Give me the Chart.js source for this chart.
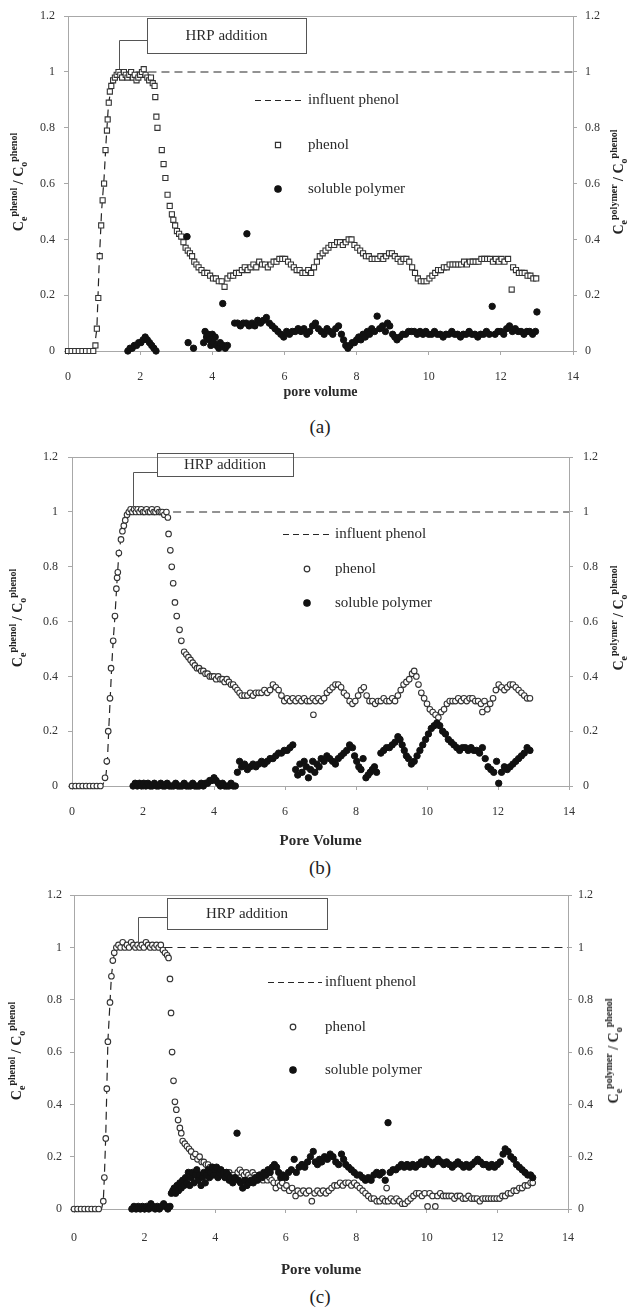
<!DOCTYPE html>
<html>
<head>
<meta charset="utf-8">
<script src="https://cdn.jsdelivr.net/npm/chart.js@4.4.1/dist/chart.umd.min.js"></script>
<style>
  body { margin: 0; background: #fff; width: 642px; height: 1310px; position: relative; overflow: hidden; font-family: "Liberation Serif", serif; color: #222; }
  canvas { position: absolute; left: 0; }
  .ytitle { position: absolute; white-space: nowrap; transform: translate(-50%, -50%) rotate(-90deg); font-weight: bold; font-size: 14px; line-height: 14px; }
  .ytitle sub, .ytitle sup { font-size: 10px; line-height: 0; }
  .caption { position: absolute; left: 320px; transform: translate(-50%, -50%); font-size: 19px; }
</style>
</head>
<body>
<canvas id="chart-a" width="642" height="402" style="top:0px"></canvas>
<canvas id="chart-b" width="642" height="410" style="top:440px"></canvas>
<canvas id="chart-c" width="642" height="400" style="top:880px"></canvas>

<div class="ytitle" style="left:19px;top:182px">C<sub>e</sub><sup>phenol</sup> / C<sub>o</sub><sup>phenol</sup></div>
<div class="ytitle" style="left:619px;top:182px">C<sub>e</sub><sup>polymer</sup> / C<sub>o</sub><sup>phenol</sup></div>
<div class="caption" style="top:427px">(a)</div>

<div class="ytitle" style="left:18px;top:618px">C<sub>e</sub><sup>phenol</sup> / C<sub>o</sub><sup>phenol</sup></div>
<div class="ytitle" style="left:619px;top:618px">C<sub>e</sub><sup>polymer</sup> / C<sub>o</sub><sup>phenol</sup></div>
<div class="caption" style="top:868px">(b)</div>

<div class="ytitle" style="left:17px;top:1051px">C<sub>e</sub><sup>phenol</sup> / C<sub>o</sub><sup>phenol</sup></div>
<div class="ytitle" style="left:614px;top:1051px">C<sub>e</sub><sup>polymer</sup> / C<sub>o</sub><sup>phenol</sup></div>
<div class="caption" style="top:1297px">(c)</div>

<script>
// Ticks
const xTicks = [0, 2, 4, 6, 8, 10, 12, 14];
const yTicks = [0, 0.2, 0.4, 0.6, 0.8, 1, 1.2];
const legendLabels = ["influent phenol", "phenol", "soluble polymer"];
const noteText = "HRP addition";

// (a) [pore volume, C/Co]
const influentA = [[0,0],[0.72,0],[0.8,0.08],[0.86,0.3],[0.93,0.5],[1.0,0.62],[1.06,0.76],[1.12,0.88],[1.2,0.95],[1.3,0.99],[1.4,1.0],[14,1.0]];
const phenolA = [
  [0,0],[0.1,0],[0.2,0],[0.3,0],[0.4,0],[0.5,0],[0.6,0],[0.7,0],
  [0.76,0.02],[0.8,0.08],[0.84,0.19],[0.88,0.34],[0.92,0.45],[0.96,0.54],[1.0,0.6],[1.04,0.72],[1.08,0.79],[1.1,0.83],[1.13,0.89],[1.16,0.93],[1.2,0.95],[1.25,0.97],[1.3,0.98],
  [1.35,0.99],[1.4,1.0],[1.45,0.99],[1.5,0.98],[1.55,1.0],[1.6,0.99],[1.65,0.98],[1.7,0.99],[1.75,1.0],[1.8,0.98],[1.85,0.99],[1.9,0.97],[1.95,0.98],[2.0,0.99],[2.05,1.0],[2.1,1.01],[2.15,0.99],[2.2,0.98],[2.25,0.97],[2.3,0.98],[2.35,0.96],
  [2.4,0.95],[2.42,0.91],[2.45,0.84],[2.48,0.8],[2.6,0.72],[2.65,0.67],[2.7,0.62],[2.76,0.56],[2.82,0.52],[2.88,0.49],[2.92,0.47],[2.97,0.45],[3.02,0.43],[3.08,0.42],[3.14,0.41],[3.2,0.39],[3.26,0.37],[3.32,0.36],[3.38,0.35],[3.44,0.34],[3.5,0.32],[3.56,0.31],[3.62,0.3],[3.7,0.29],[3.78,0.28],[3.86,0.28],[3.94,0.27],[4.02,0.26],[4.1,0.26],[4.18,0.25],[4.26,0.25],[4.34,0.23],
  [4.42,0.26],[4.5,0.27],[4.58,0.27],[4.66,0.28],[4.74,0.28],[4.82,0.29],[4.9,0.3],[4.98,0.29],[5.06,0.3],[5.14,0.31],[5.22,0.3],[5.3,0.32],[5.38,0.31],[5.46,0.31],[5.54,0.3],[5.62,0.31],[5.7,0.32],[5.78,0.32],[5.86,0.33],[5.94,0.33],[6.02,0.33],[6.1,0.32],[6.18,0.31],[6.26,0.3],[6.34,0.29],[6.42,0.29],[6.5,0.28],[6.58,0.28],[6.66,0.29],[6.74,0.28],
  [6.82,0.3],[6.9,0.32],[6.98,0.34],[7.06,0.35],[7.14,0.36],[7.22,0.37],[7.3,0.38],[7.38,0.38],[7.46,0.39],[7.54,0.39],[7.62,0.38],[7.7,0.39],[7.78,0.4],[7.86,0.4],[7.94,0.38],[8.02,0.37],[8.1,0.36],[8.18,0.35],[8.26,0.34],[8.34,0.34],[8.42,0.33],[8.5,0.33],[8.58,0.33],[8.66,0.34],[8.74,0.33],[8.82,0.34],[8.9,0.35],[8.98,0.35],[9.06,0.34],[9.14,0.33],[9.22,0.32],[9.3,0.33],[9.38,0.33],[9.46,0.32],
  [9.54,0.3],[9.62,0.28],[9.7,0.26],[9.78,0.25],[9.86,0.25],[9.94,0.25],[10.02,0.26],[10.1,0.27],[10.18,0.28],[10.26,0.29],[10.34,0.29],[10.42,0.3],[10.5,0.3],[10.58,0.31],[10.66,0.31],[10.74,0.31],[10.82,0.31],[10.9,0.31],[10.98,0.32],[11.06,0.31],[11.14,0.32],[11.22,0.32],[11.3,0.32],[11.38,0.32],[11.46,0.33],[11.54,0.33],[11.62,0.33],[11.7,0.33],[11.78,0.32],[11.86,0.33],[11.94,0.32],[12.02,0.33],[12.1,0.32],[12.2,0.33],
  [12.3,0.22],[12.34,0.3],[12.42,0.29],[12.5,0.28],[12.58,0.28],[12.66,0.28],[12.74,0.27],[12.82,0.27],[12.9,0.26],[12.98,0.26]
];
const polymerA = [
  [1.66,0],[1.72,0.01],[1.78,0.01],[1.84,0.02],[1.9,0.02],[1.96,0.03],[2.02,0.03],[2.08,0.04],[2.14,0.05],[2.2,0.04],[2.26,0.03],[2.32,0.02],[2.38,0.01],[2.44,0],
  [3.3,0.41],[3.33,0.03],[3.48,0.01],
  [3.76,0.03],[3.8,0.07],[3.84,0.05],[3.88,0.06],[3.92,0.04],[3.96,0.02],[4.0,0.06],[4.04,0.03],[4.08,0.05],[4.12,0.02],[4.18,0.01],[4.22,0.03],[4.29,0.17],[4.3,0.02],[4.36,0.01],[4.42,0.02],
  [4.62,0.1],[4.7,0.1],[4.78,0.09],[4.86,0.1],[4.94,0.1],[4.96,0.42],[5.02,0.09],[5.1,0.1],[5.18,0.09],[5.26,0.11],[5.34,0.1],[5.42,0.11],[5.5,0.12],[5.58,0.1],[5.66,0.09],[5.74,0.08],[5.82,0.07],[5.9,0.06],[5.98,0.05],
  [6.06,0.07],[6.14,0.06],[6.22,0.07],[6.3,0.07],[6.38,0.08],[6.46,0.07],[6.54,0.08],[6.62,0.06],[6.7,0.07],[6.78,0.09],[6.86,0.1],[6.94,0.08],[7.02,0.07],[7.1,0.06],[7.18,0.08],[7.26,0.07],[7.34,0.06],[7.42,0.08],[7.5,0.09],
  [7.58,0.06],[7.64,0.04],[7.7,0.02],[7.76,0.01],[7.82,0.02],[7.88,0.03],[7.94,0.03],[8.0,0.04],[8.06,0.05],[8.12,0.04],[8.18,0.06],[8.24,0.05],[8.3,0.07],[8.36,0.06],[8.42,0.08],[8.5,0.07],[8.57,0.125],[8.64,0.08],[8.72,0.09],[8.8,0.07],[8.86,0.1],[8.92,0.09],[9.0,0.06],[9.06,0.05],[9.12,0.04],
  [9.2,0.05],[9.28,0.06],[9.36,0.06],[9.44,0.07],[9.52,0.07],[9.6,0.07],[9.68,0.06],[9.76,0.07],[9.84,0.06],[9.92,0.07],[10.0,0.06],[10.08,0.06],[10.16,0.07],[10.24,0.06],[10.32,0.06],[10.4,0.05],[10.48,0.06],[10.56,0.06],[10.64,0.07],[10.72,0.06],[10.8,0.06],[10.88,0.05],[10.96,0.06],[11.04,0.06],[11.12,0.07],[11.2,0.06],[11.28,0.06],[11.36,0.05],[11.44,0.06],[11.52,0.06],[11.6,0.07],[11.68,0.06],
  [11.76,0.16],[11.84,0.06],[11.92,0.07],[12.0,0.07],[12.08,0.06],[12.16,0.08],[12.24,0.09],[12.32,0.07],[12.4,0.08],[12.48,0.07],[12.56,0.07],[12.64,0.06],[12.72,0.07],[12.8,0.07],[12.88,0.06],[12.96,0.07],[13.0,0.14]
];

// (b)
const influentB = [[0,0],[0.85,0],[0.95,0.03],[1.0,0.1],[1.04,0.22],[1.08,0.33],[1.12,0.44],[1.16,0.53],[1.21,0.62],[1.26,0.73],[1.32,0.85],[1.4,0.92],[1.5,0.97],[1.6,1.0],[14,1.0]];
const phenolB = [
  [0,0],[0.1,0],[0.2,0],[0.3,0],[0.4,0],[0.5,0],[0.6,0],[0.7,0],[0.8,0],
  [0.93,0.03],[0.98,0.09],[1.02,0.2],[1.07,0.32],[1.1,0.43],[1.16,0.53],[1.21,0.62],[1.25,0.72],[1.27,0.76],[1.29,0.78],[1.32,0.85],[1.38,0.9],[1.42,0.93],[1.46,0.95],[1.5,0.97],[1.55,0.99],
  [1.6,1.0],[1.65,1.01],[1.7,1.0],[1.75,1.01],[1.8,1.0],[1.85,1.01],[1.9,1.0],[1.95,1.01],[2.0,1.0],[2.05,1.0],[2.1,1.01],[2.15,1.0],[2.2,1.0],[2.25,1.01],[2.3,1.0],[2.35,1.0],[2.4,1.01],[2.45,1.0],[2.5,1.0],[2.55,1.0],[2.6,0.99],[2.66,1.0],
  [2.7,0.98],[2.72,0.92],[2.77,0.86],[2.81,0.8],[2.85,0.74],[2.9,0.67],[2.95,0.62],[3.03,0.57],[3.08,0.53],[3.16,0.49],[3.22,0.48],[3.28,0.47],[3.34,0.46],[3.4,0.45],[3.46,0.44],[3.52,0.43],[3.58,0.43],[3.64,0.42],[3.7,0.42],[3.76,0.41],[3.82,0.41],[3.88,0.4],[3.94,0.4],[4.0,0.4],[4.06,0.39],[4.12,0.4],[4.18,0.39],[4.24,0.39],[4.3,0.38],[4.36,0.39],[4.42,0.38],[4.48,0.37],[4.54,0.37],[4.6,0.36],[4.66,0.35],[4.72,0.34],[4.78,0.33],
  [4.86,0.33],[4.94,0.33],[5.02,0.34],[5.1,0.33],[5.18,0.34],[5.26,0.34],[5.34,0.34],[5.42,0.35],[5.5,0.34],[5.58,0.35],[5.66,0.37],[5.74,0.36],[5.82,0.35],[5.9,0.33],[5.98,0.31],[6.06,0.32],[6.14,0.31],[6.22,0.32],[6.3,0.31],[6.38,0.32],[6.46,0.31],[6.54,0.32],[6.62,0.31],[6.7,0.31],[6.78,0.32],[6.8,0.26],[6.86,0.31],[6.94,0.32],[7.02,0.31],[7.1,0.32],
  [7.18,0.34],[7.26,0.35],[7.34,0.36],[7.42,0.37],[7.5,0.37],[7.58,0.36],[7.66,0.34],[7.74,0.33],[7.82,0.31],[7.9,0.3],[7.98,0.31],[8.06,0.33],[8.14,0.35],[8.22,0.36],[8.3,0.33],[8.38,0.31],[8.46,0.31],[8.54,0.3],[8.62,0.31],[8.7,0.31],[8.78,0.32],[8.86,0.31],[8.94,0.31],[9.02,0.32],[9.1,0.31],[9.18,0.33],[9.26,0.35],[9.34,0.37],[9.42,0.38],[9.5,0.39],[9.58,0.41],[9.64,0.42],
  [9.7,0.4],[9.76,0.37],[9.84,0.34],[9.92,0.32],[10.0,0.3],[10.08,0.28],[10.16,0.27],[10.24,0.26],[10.32,0.25],[10.4,0.27],[10.48,0.28],[10.56,0.3],[10.64,0.31],[10.72,0.31],[10.8,0.31],[10.88,0.32],[10.96,0.31],[11.04,0.32],[11.12,0.31],[11.2,0.32],[11.28,0.32],[11.36,0.31],[11.44,0.31],[11.52,0.3],[11.56,0.27],[11.62,0.31],[11.7,0.28],[11.78,0.3],
  [11.86,0.32],[11.94,0.35],[12.02,0.37],[12.1,0.36],[12.18,0.35],[12.26,0.36],[12.34,0.37],[12.42,0.37],[12.5,0.36],[12.58,0.35],[12.66,0.34],[12.74,0.33],[12.82,0.32],[12.9,0.32]
];
const polymerB = [
  [1.72,0],[1.78,0.01],[1.84,0],[1.9,0.01],[1.96,0],[2.02,0.01],[2.08,0],[2.14,0.01],[2.2,0],[2.26,0],[2.32,0.01],[2.38,0],[2.44,0],[2.5,0.01],[2.56,0],[2.62,0],[2.68,0.01],[2.74,0],[2.8,0],[2.86,0],[2.92,0.01],[2.98,0],[3.04,0],[3.1,0],[3.16,0.01],[3.22,0],[3.28,0],[3.34,0],[3.4,0.01],[3.46,0],[3.52,0],[3.58,0],[3.64,0.01],[3.7,0],[3.76,0.01],[3.82,0.01],[3.88,0.02],[3.94,0.02],[4.0,0.03],[4.06,0.02],[4.12,0.01],[4.18,0],[4.24,0.01],[4.3,0],[4.36,0],[4.42,0],[4.48,0.01],[4.54,0],[4.6,0],
  [4.66,0.05],[4.72,0.09],[4.78,0.07],[4.86,0.08],[4.94,0.06],[5.02,0.07],[5.1,0.08],[5.18,0.07],[5.26,0.08],[5.34,0.09],[5.42,0.08],[5.5,0.09],[5.58,0.1],[5.66,0.1],[5.74,0.11],[5.82,0.12],[5.9,0.12],[5.98,0.13],[6.06,0.13],[6.14,0.14],[6.22,0.15],
  [6.3,0.06],[6.36,0.04],[6.42,0.08],[6.48,0.05],[6.54,0.09],[6.6,0.07],[6.66,0.03],[6.72,0.06],[6.78,0.09],[6.84,0.05],[6.9,0.08],[6.96,0.07],[7.02,0.1],[7.1,0.09],[7.18,0.11],[7.26,0.1],[7.34,0.09],[7.42,0.08],[7.5,0.1],[7.58,0.11],[7.66,0.12],[7.74,0.13],[7.82,0.15],[7.9,0.14],
  [7.96,0.11],[8.02,0.09],[8.08,0.07],[8.14,0.06],[8.2,0.1],[8.28,0.03],[8.34,0.04],[8.4,0.05],[8.46,0.06],[8.52,0.07],[8.58,0.05],
  [8.7,0.12],[8.78,0.13],[8.86,0.14],[8.94,0.14],[9.02,0.15],[9.1,0.16],[9.18,0.18],[9.24,0.17],[9.3,0.15],[9.36,0.13],[9.42,0.11],[9.48,0.1],[9.56,0.08],[9.64,0.09],[9.72,0.11],[9.8,0.13],[9.88,0.15],[9.96,0.17],[10.04,0.19],[10.12,0.21],[10.2,0.22],[10.28,0.23],[10.36,0.22],[10.44,0.2],[10.52,0.19],[10.6,0.17],[10.68,0.16],[10.76,0.15],[10.84,0.14],[10.92,0.13],
  [11.0,0.14],[11.08,0.14],[11.16,0.13],[11.24,0.14],[11.32,0.13],[11.4,0.13],[11.48,0.12],[11.56,0.14],[11.64,0.1],[11.72,0.07],[11.8,0.06],[11.88,0.05],[11.96,0.09],[12.02,0.01],[12.1,0.05],[12.18,0.07],[12.26,0.06],[12.34,0.07],[12.42,0.08],[12.5,0.09],[12.58,0.1],[12.66,0.11],[12.74,0.12],[12.82,0.14],[12.9,0.13]
];

// (c)
const influentC = [[0,0],[0.78,0],[0.83,0.03],[0.86,0.12],[0.9,0.28],[0.93,0.46],[0.96,0.64],[1.02,0.79],[1.06,0.89],[1.12,0.96],[1.2,1.0],[14,1.0]];
const phenolC = [
  [0,0],[0.1,0],[0.2,0],[0.3,0],[0.4,0],[0.5,0],[0.6,0],[0.7,0],
  [0.83,0.03],[0.86,0.12],[0.9,0.27],[0.93,0.46],[0.96,0.64],[1.02,0.79],[1.06,0.89],[1.1,0.95],[1.14,0.98],
  [1.2,1.0],[1.26,1.01],[1.32,1.0],[1.38,1.02],[1.44,1.0],[1.5,1.01],[1.56,1.0],[1.62,1.02],[1.68,1.01],[1.74,1.0],[1.8,1.01],[1.86,1.0],[1.92,1.01],[1.98,1.0],[2.04,1.02],[2.1,1.01],[2.16,1.0],[2.22,1.01],[2.28,1.0],[2.34,1.01],[2.4,1.0],[2.46,1.01],[2.52,0.99],[2.58,0.98],[2.64,0.97],[2.68,0.96],
  [2.72,0.88],[2.75,0.75],[2.78,0.6],[2.82,0.49],[2.86,0.41],[2.9,0.38],[2.95,0.34],[3.0,0.31],[3.04,0.29],[3.08,0.26],[3.14,0.25],[3.2,0.24],[3.26,0.23],[3.32,0.22],[3.38,0.2],[3.44,0.21],[3.5,0.19],[3.56,0.2],[3.62,0.18],[3.68,0.18],[3.74,0.17],[3.8,0.17],[3.86,0.16],[3.92,0.16],[3.98,0.15],[4.04,0.15],[4.1,0.14],[4.16,0.15],[4.22,0.14],[4.28,0.14],[4.34,0.13],[4.4,0.14],[4.46,0.13],[4.52,0.13],[4.58,0.12],
  [4.64,0.14],[4.7,0.15],[4.76,0.14],[4.82,0.13],[4.88,0.14],[4.94,0.13],[5.0,0.12],[5.06,0.14],[5.12,0.13],[5.18,0.12],[5.24,0.13],[5.3,0.12],[5.36,0.11],[5.42,0.12],[5.48,0.11],[5.54,0.12],[5.6,0.11],[5.66,0.1],[5.72,0.08],[5.78,0.1],[5.84,0.09],[5.9,0.1],[5.96,0.08],[6.02,0.09],[6.1,0.07],[6.18,0.08],[6.28,0.05],[6.34,0.07],[6.42,0.06],[6.5,0.07],[6.58,0.06],[6.66,0.07],[6.74,0.03],[6.82,0.06],[6.9,0.07],[6.98,0.06],
  [7.06,0.07],[7.14,0.06],[7.22,0.07],[7.3,0.08],[7.38,0.09],[7.46,0.09],[7.54,0.1],[7.62,0.09],[7.7,0.1],[7.78,0.1],[7.86,0.09],[7.94,0.1],[8.02,0.09],[8.1,0.08],[8.18,0.07],[8.26,0.06],[8.34,0.05],[8.42,0.04],[8.5,0.04],[8.58,0.03],[8.66,0.03],[8.74,0.04],[8.82,0.03],[8.86,0.08],[8.9,0.03],[8.98,0.04],[9.06,0.03],[9.14,0.04],[9.22,0.03],[9.3,0.02],[9.38,0.02],[9.46,0.03],[9.54,0.04],
  [9.62,0.05],[9.7,0.06],[9.78,0.06],[9.86,0.05],[9.94,0.06],[10.02,0.01],[10.08,0.06],[10.16,0.05],[10.24,0.01],[10.3,0.05],[10.38,0.06],[10.46,0.05],[10.54,0.05],[10.62,0.05],[10.7,0.05],[10.78,0.04],[10.86,0.05],[10.94,0.05],[11.02,0.04],[11.1,0.04],[11.18,0.05],[11.26,0.04],[11.34,0.04],[11.42,0.04],[11.5,0.03],[11.58,0.04],[11.66,0.04],[11.74,0.04],[11.82,0.04],[11.9,0.04],[11.98,0.04],
  [12.06,0.04],[12.14,0.05],[12.22,0.05],[12.3,0.06],[12.38,0.06],[12.46,0.07],[12.54,0.07],[12.62,0.08],[12.7,0.08],[12.78,0.09],[12.86,0.09],[12.94,0.1],[13.0,0.1]
];
const polymerC = [
  [1.64,0],[1.7,0.01],[1.76,0],[1.82,0.01],[1.88,0],[1.94,0.01],[2.0,0],[2.06,0.01],[2.12,0],[2.18,0.02],[2.24,0.01],[2.3,0],[2.36,0.01],[2.42,0],[2.48,0.01],[2.54,0.02],[2.6,0.01],[2.66,0],[2.72,0.01],
  [2.76,0.06],[2.8,0.07],[2.84,0.08],[2.88,0.06],[2.92,0.09],[2.96,0.07],[3.0,0.1],[3.04,0.08],[3.08,0.11],[3.12,0.09],[3.16,0.12],[3.2,0.1],[3.24,0.14],[3.28,0.09],[3.32,0.12],[3.36,0.14],[3.4,0.1],[3.44,0.13],[3.48,0.15],[3.52,0.11],[3.56,0.13],[3.6,0.09],[3.64,0.12],[3.68,0.14],[3.72,0.1],[3.76,0.13],[3.8,0.15],[3.84,0.12],[3.88,0.14],[3.92,0.16],[3.96,0.13],[4.0,0.15],[4.04,0.16],[4.08,0.12],[4.12,0.14],[4.16,0.15],[4.2,0.13],[4.24,0.14],[4.28,0.12],[4.32,0.14],[4.36,0.13],[4.4,0.11],[4.44,0.12],[4.5,0.1],[4.56,0.12],
  [4.62,0.29],[4.66,0.11],[4.72,0.1],[4.78,0.08],[4.84,0.11],[4.9,0.09],[4.96,0.1],[5.02,0.11],[5.08,0.1],[5.14,0.12],[5.2,0.11],[5.26,0.13],[5.32,0.12],[5.38,0.14],[5.44,0.13],[5.5,0.15],[5.56,0.14],[5.62,0.16],[5.68,0.17],[5.74,0.16],[5.8,0.14],[5.86,0.12],[5.92,0.13],[6.0,0.12],[6.08,0.14],[6.16,0.15],[6.24,0.19],[6.3,0.14],[6.38,0.16],[6.46,0.17],[6.54,0.16],[6.62,0.18],[6.7,0.2],[6.78,0.22],[6.84,0.18],[6.9,0.17],[6.96,0.19],
  [7.02,0.18],[7.1,0.2],[7.18,0.19],[7.26,0.21],[7.34,0.2],[7.42,0.18],[7.5,0.17],[7.58,0.21],[7.64,0.19],[7.7,0.17],[7.78,0.16],[7.86,0.15],[7.94,0.14],[8.02,0.13],[8.1,0.13],[8.18,0.12],[8.26,0.11],[8.34,0.12],[8.42,0.11],[8.5,0.13],[8.58,0.14],[8.66,0.13],[8.74,0.14],[8.82,0.11],[8.9,0.33],[8.96,0.14],
  [9.04,0.15],[9.12,0.15],[9.2,0.16],[9.28,0.17],[9.36,0.16],[9.44,0.17],[9.52,0.16],[9.6,0.17],[9.68,0.16],[9.76,0.17],[9.84,0.18],[9.92,0.17],[10.0,0.19],[10.08,0.18],[10.16,0.17],[10.24,0.18],[10.32,0.19],[10.4,0.18],[10.48,0.17],[10.56,0.18],[10.64,0.17],[10.72,0.16],[10.8,0.17],[10.88,0.18],[10.96,0.17],[11.04,0.16],[11.12,0.17],[11.2,0.16],[11.28,0.17],[11.36,0.18],[11.44,0.19],[11.52,0.18],[11.6,0.17],[11.68,0.17],[11.76,0.16],[11.84,0.17],[11.92,0.16],[12.0,0.17],
  [12.08,0.18],[12.16,0.21],[12.22,0.23],[12.3,0.22],[12.38,0.2],[12.46,0.19],[12.54,0.17],[12.62,0.16],[12.7,0.15],[12.78,0.14],[12.86,0.13],[12.94,0.13],[13.0,0.12]
];

// Layout (page pixels)
const axisColor = "#a8a8a8";
const inkColor = "#2a2a2a";
const dashColor = "#262626";
Chart.defaults.font.family = '"Liberation Serif", "Times New Roman", serif';

const panels = [
  {
    id: "chart-a", top: 0, area: { left: 68, right: 573, top: 13, bottom: 351 },
    influent: influentA, phenol: phenolA, polymer: polymerA,
    phenolStyle: "rect", phenolRadius: 3.6,
    xTitle: "pore volume", xTitleSize: 14, xTitlePad: 1, xPad: 15, yPadL: 9, yPadR: 8,
    note: { x1: 147, y1: 18, x2: 306, y2: 53, leadY: 40, tipX: 1.41 },
    legend: { dash: [255, 305], textX: 308, markX: 278, rows: [100, 145, 189] }
  },
  {
    id: "chart-b", top: 440, area: { left: 72, right: 569, top: 451, bottom: 786 },
    influent: influentB, phenol: phenolB, polymer: polymerB,
    phenolStyle: "circle", phenolRadius: 2.8,
    xTitle: "Pore Volume", xTitleSize: 15, xTitlePad: 0, xPad: 15, yPadL: 10, yPadR: 10,
    note: { x1: 157, y1: 453, x2: 293, y2: 476, leadY: 472, tipX: 1.72 },
    legend: { dash: [283, 332], textX: 335, markX: 307, rows: [534, 569, 603] }
  },
  {
    id: "chart-c", top: 880, area: { left: 74, right: 568, top: 894, bottom: 1209 },
    influent: influentC, phenol: phenolC, polymer: polymerC,
    phenolStyle: "circle", phenolRadius: 2.8,
    xTitle: "Pore volume", xTitleSize: 15, xTitlePad: 1, xPad: 18, yPadL: 8, yPadR: 6,
    note: { x1: 167, y1: 898, x2: 327, y2: 929, leadY: 917, tipX: 1.81 },
    legend: { dash: [268, 322], textX: 325, markX: 293, rows: [982, 1027, 1070] }
  }
];

function toXY(list) {
  return list.map(p => ({ x: p[0], y: p[1] }));
}

function drawExtras(chart, p) {
  const ctx = chart.ctx;
  const a = chart.chartArea;
  const t = p.top;
  ctx.save();

  // frame top
  ctx.strokeStyle = axisColor;
  ctx.lineWidth = 1;
  ctx.beginPath();
  ctx.moveTo(a.left, Math.round(a.top) + 0.5);
  ctx.lineTo(a.right, Math.round(a.top) + 0.5);
  ctx.stroke();

  // HRP addition note
  const n = p.note;
  ctx.strokeStyle = "#555";
  ctx.strokeRect(n.x1 + 0.5, n.y1 - t + 0.5, n.x2 - n.x1, n.y2 - n.y1);
  const tipX = Math.round(chart.scales.x.getPixelForValue(n.tipX)) + 0.5;
  const tipY = chart.scales.y.getPixelForValue(1.0) - 3;
  ctx.beginPath();
  ctx.moveTo(n.x1, n.leadY - t + 0.5);
  ctx.lineTo(tipX, n.leadY - t + 0.5);
  ctx.lineTo(tipX, tipY);
  ctx.stroke();
  ctx.fillStyle = inkColor;
  ctx.font = '15px "Liberation Serif"';
  ctx.textAlign = "center";
  ctx.textBaseline = "middle";
  ctx.fillText(noteText, (n.x1 + n.x2) / 2, (n.y1 + n.y2) / 2 - t + 1);

  // Legend
  const L = p.legend;
  ctx.strokeStyle = dashColor;
  ctx.lineWidth = 1.2;
  ctx.setLineDash([6, 4]);
  ctx.beginPath();
  ctx.moveTo(L.dash[0], L.rows[0] - t + 0.5);
  ctx.lineTo(L.dash[1], L.rows[0] - t + 0.5);
  ctx.stroke();
  ctx.setLineDash([]);

  ctx.strokeStyle = "#333";
  ctx.fillStyle = "#fff";
  Chart.helpers.drawPoint(ctx, { pointStyle: p.phenolStyle, radius: p.phenolRadius, borderWidth: 1.1, rotation: 0 }, L.markX, L.rows[1] - t);
  ctx.fillStyle = "#111";
  ctx.strokeStyle = "#111";
  Chart.helpers.drawPoint(ctx, { pointStyle: "circle", radius: 3.2, borderWidth: 1, rotation: 0 }, L.markX, L.rows[2] - t);

  ctx.fillStyle = inkColor;
  ctx.font = '15px "Liberation Serif"';
  ctx.textAlign = "left";
  ctx.textBaseline = "middle";
  legendLabels.forEach((label, i) => ctx.fillText(label, L.textX, L.rows[i] - t));

  ctx.restore();
}

function makePanel(p) {
  const canvas = document.getElementById(p.id);
  const H = canvas.height;
  const W = canvas.width;
  const tickFont = { size: 12 };
  const yAxis = (side, pad, width) => ({
    type: "linear", position: side, min: 0, max: 1.2,
    afterBuildTicks: s => { s.ticks = yTicks.map(v => ({ value: v })); },
    afterFit: s => { s.width = width; },
    grid: { drawOnChartArea: false, tickLength: 4, color: axisColor },
    border: { color: axisColor },
    ticks: { padding: pad, color: "#333", font: tickFont, callback: v => String(v) }
  });

  return new Chart(canvas.getContext("2d"), {
    type: "scatter",
    data: {
      datasets: [
        { type: "line", label: legendLabels[0], data: toXY(p.influent), borderColor: dashColor, borderWidth: 1.2, borderDash: [8, 5], pointRadius: 0, fill: false, tension: 0, order: 3, clip: false },
        { label: legendLabels[1], data: toXY(p.phenol), pointStyle: p.phenolStyle, pointRadius: p.phenolRadius, borderColor: "#333", borderWidth: 1.1, backgroundColor: "#fff", order: 2, clip: false },
        { label: legendLabels[2], data: toXY(p.polymer), pointStyle: "circle", pointRadius: 3.2, borderColor: "#111", borderWidth: 1, backgroundColor: "#111", order: 1, clip: false }
      ]
    },
    options: {
      responsive: false,
      animation: false,
      events: [],
      layout: { padding: { top: p.area.top - p.top, left: 0, right: 0, bottom: 0 } },
      plugins: { legend: { display: false }, tooltip: { enabled: false } },
      scales: {
        x: {
          type: "linear", min: 0, max: 14,
          afterBuildTicks: s => { s.ticks = xTicks.map(v => ({ value: v })); },
          afterFit: s => { s.height = H - (p.area.bottom - p.top); },
          grid: { drawOnChartArea: false, tickLength: 4, color: axisColor },
          border: { color: axisColor },
          ticks: { padding: p.xPad, color: "#333", font: tickFont, maxRotation: 0, callback: v => String(v) },
          title: { display: true, text: p.xTitle, color: inkColor, font: { size: p.xTitleSize, weight: "bold" }, padding: { top: 0, bottom: p.xTitlePad } }
        },
        y: yAxis("left", p.yPadL, p.area.left),
        y2: yAxis("right", p.yPadR, W - p.area.right)
      }
    },
    plugins: [{ id: "extras", afterDraw: chart => drawExtras(chart, p) }]
  });
}

panels.forEach(makePanel);
</script>
</body>
</html>
